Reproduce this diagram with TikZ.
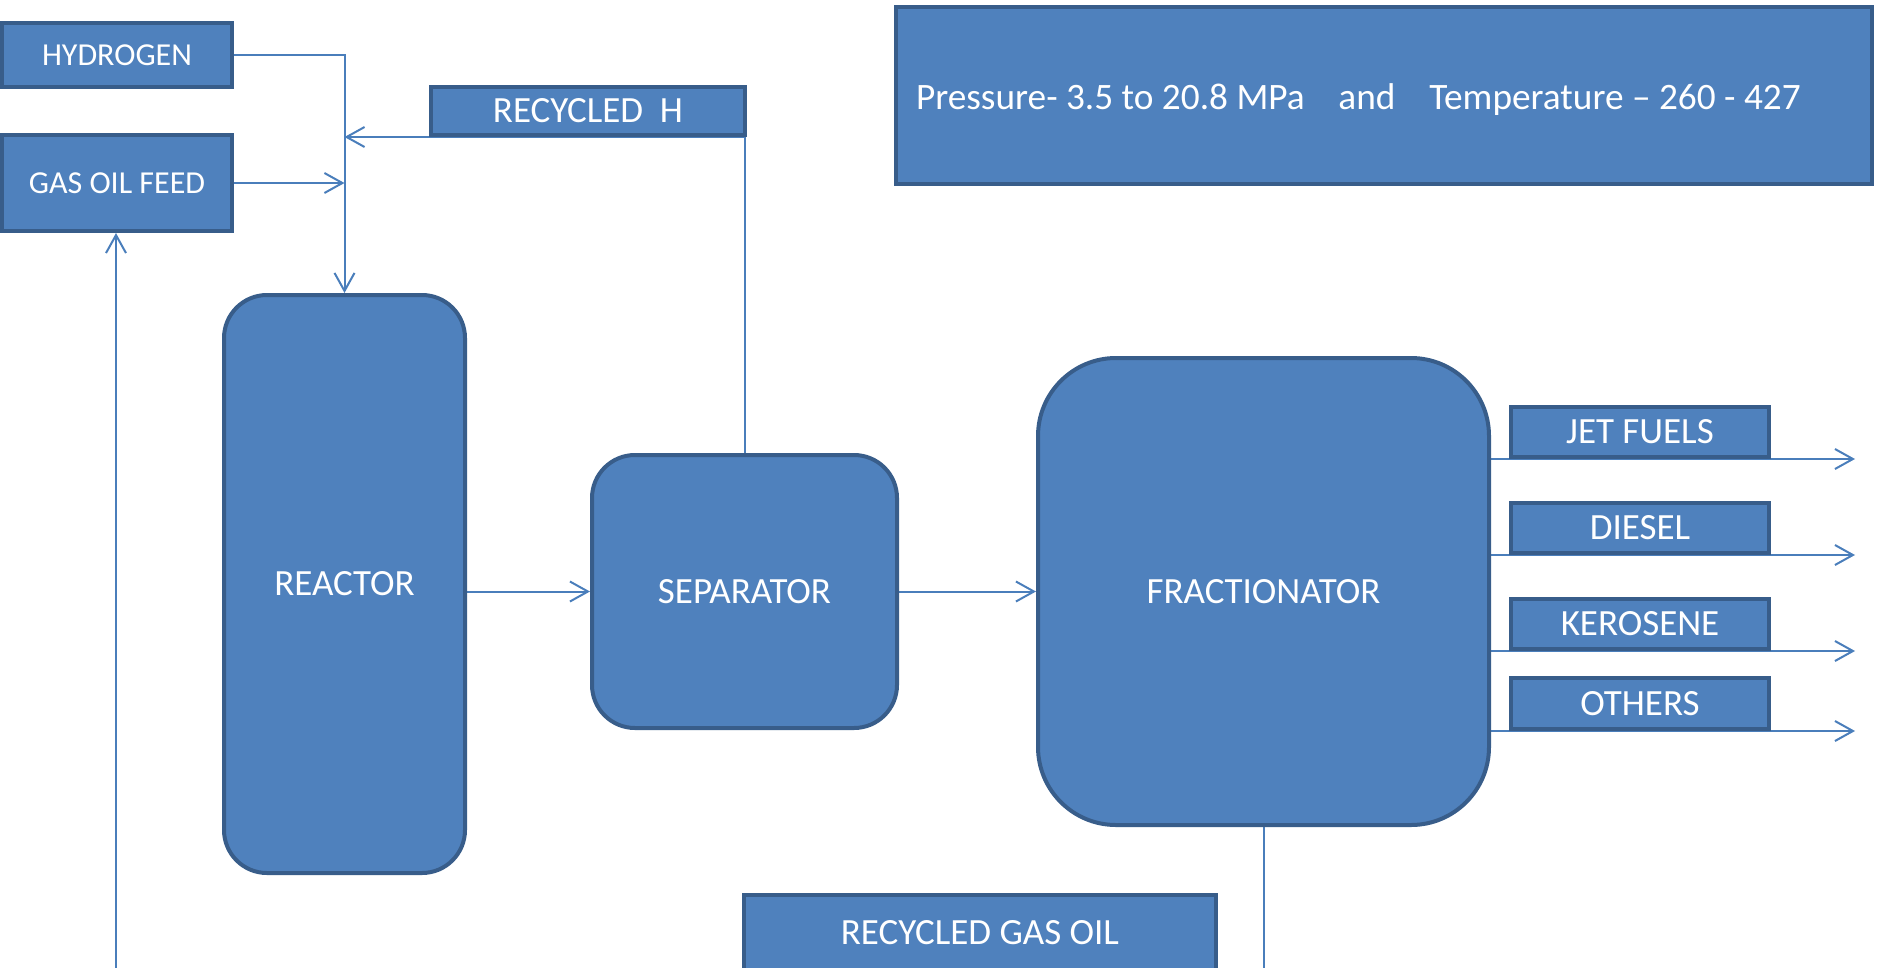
\documentclass[tikz,border=0pt]{standalone}
\usepackage{fontspec}
\setmainfont{Carlito}
\usetikzlibrary{arrows.meta}
\definecolor{boxfill}{HTML}{4F81BD}
\definecolor{boxline}{HTML}{385D8A}
\definecolor{flow}{HTML}{4A7EBB}
\pgfdeclarelayer{bg}
\pgfsetlayers{bg,main}
\tikzset{
  unit/.style={draw=boxline, line width=4pt, fill=boxfill, text=white, inner sep=0pt,
    font=\fontsize{37}{44}\selectfont},
  sqbox/.style={unit, rectangle},
  smallbox/.style={sqbox, font=\fontsize{32}{38}\selectfont},
  vessel/.style={unit, rectangle, rounded corners=#1},
  flowline/.style={draw=flow, line width=2pt},
  flowarrow/.style={flowline, -{Straight Barb[length=18pt,width=20pt]}},
}
\begin{document}
\begin{tikzpicture}[x=1pt,y=-1pt]
\useasboundingbox (0,0) rectangle (1878,967);
\clip (0,0) rectangle (1878,967);
% feed boxes
\node[smallbox, minimum width=230pt, minimum height=64pt] (hyd) at (117,55) {HYDROGEN};
\node[smallbox, minimum width=230pt, minimum height=96pt] (feed) at (117,183) {GAS OIL FEED};
\node[sqbox, minimum width=314pt, minimum height=48pt] (rech) at (588,111) {RECYCLED\ \ H};
\node[sqbox, minimum width=976pt, minimum height=177pt, text width=936pt, align=flush left,
  font=\fontsize{37.3}{44}\selectfont] (press) at (1384,95.5)
  {\raisebox{-4pt}[\height][\depth]{\mbox{Pressure- 3.5 to 20.8 MPa\ \ \ \ and\ \ \ \ Temperature – 260 - 427}}};
% vessels
\node[vessel=43pt, minimum width=241pt, minimum height=578pt] (reactor) at (344.5,584) {REACTOR};
\node[vessel=43pt, minimum width=305pt, minimum height=273pt] (sep) at (744.5,591.5) {SEPARATOR};
\node[vessel=78pt, minimum width=451pt, minimum height=467pt] (frac) at (1263.5,591.5) {FRACTIONATOR};
% products
\node[sqbox, minimum width=258pt, minimum height=50pt] (jet) at (1640,432) {JET FUELS};
\node[sqbox, minimum width=258pt, minimum height=50pt] (diesel) at (1640,528) {DIESEL};
\node[sqbox, minimum width=258pt, minimum height=50pt] (kero) at (1640,624) {KEROSENE};
\node[sqbox, minimum width=258pt, minimum height=51pt] (others) at (1640,703.5) {OTHERS};
\node[sqbox, minimum width=472pt, minimum height=76pt] (rgo) at (980,933) {RECYCLED GAS OIL};
% free ends
\coordinate (outx) at (1855,0);
\coordinate (botfeed) at (116,980);
\coordinate (botfrac) at (1263.5,980);
\begin{pgfonlayer}{bg}
\draw[flowarrow] (hyd.east) -| (reactor.north);
\draw[flowarrow] (feed.east) -- (feed.east -| reactor.north);
\draw[flowarrow] (sep.north) |- (reactor.north |- rech.south);
\draw[flowarrow] (reactor.east |- sep.west) -- (sep.west);
\draw[flowarrow] (sep.east) -- (frac.west);
\draw[flowarrow] (frac.east |- jet.south) -- (outx |- jet.south);
\draw[flowarrow] (frac.east |- diesel.south) -- (outx |- diesel.south);
\draw[flowarrow] (frac.east |- kero.south) -- (outx |- kero.south);
\draw[flowarrow] (frac.east |- others.south) -- (outx |- others.south);
\draw[flowline] (frac.south) -- (botfrac);
\draw[flowarrow] (botfeed) -- (botfeed |- feed.south);
\end{pgfonlayer}
\end{tikzpicture}
\end{document}
